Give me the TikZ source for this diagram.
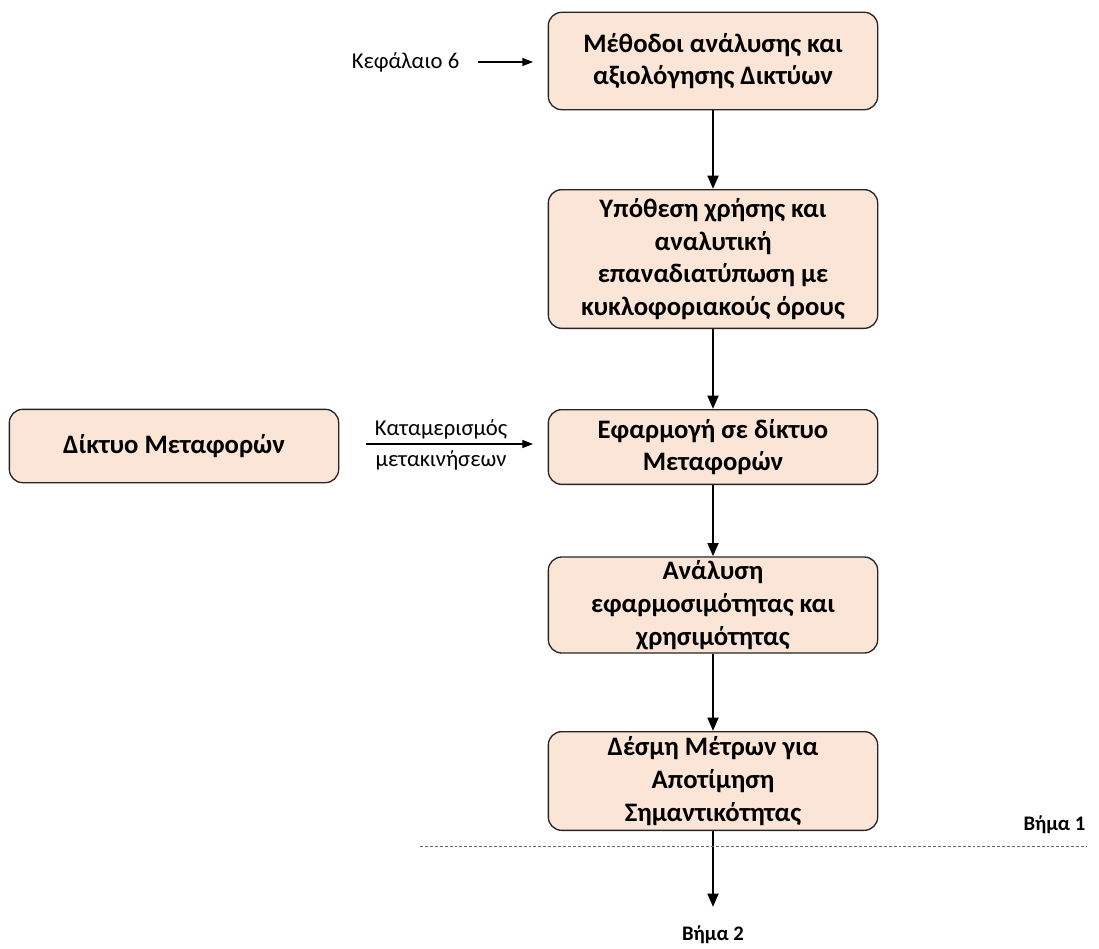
\documentclass[tikz,border=0pt]{standalone}
\usepackage{fontspec}
\setmainfont{Carlito}
\usetikzlibrary{arrows.meta}
\definecolor{peach}{RGB}{251,229,214}

\begin{document}
\begin{tikzpicture}[x=0.75pt, y=-0.75pt, >={Triangle[length=10pt,width=8pt]},
  stage/.style={draw=black!85, line width=1pt, fill=peach, rounded corners=10pt,
    minimum width=247pt, inner sep=2pt, align=center, font=\fontsize{20}{24.6}\selectfont\bfseries},
  flow/.style={->, line width=2pt},
  feed/.style={->, line width=0.9pt, shorten >=11pt, >={Triangle[length=8pt,width=6pt]}},
  note/.style={font=\fontsize{17}{20}\selectfont},
  steplabel/.style={font=\fontsize{15.5}{18}\selectfont\bfseries}]
  \useasboundingbox (0,0) rectangle (1099,949);

  % main column
  \node[stage, minimum height=73pt] (methods) at (713,61) {Μέθοδοι ανάλυσης και\\αξιολόγησης Δικτύων};
  \node[stage, minimum height=104pt] (usecase) at (713,259) {Υπόθεση χρήσης και\\αναλυτική\\επαναδιατύπωση με\\κυκλοφοριακούς όρους};
  \node[stage, minimum height=56pt] (apply) at (713,447) {Εφαρμογή σε δίκτυο\\Μεταφορών};
  \node[stage, minimum height=72pt] (analysis) at (713,605) {Ανάλυση\\εφαρμοσιμότητας και\\χρησιμότητας};
  \node[stage, minimum height=74pt] (measures) at (713,781) {Δέσμη Μέτρων για\\Αποτίμηση\\Σημαντικότητας};

  % side box
  \node[stage, minimum height=55pt] (network) at (174,446) {Δίκτυο Μεταφορών};

  \draw[flow] (methods) -- (usecase);
  \draw[flow] (usecase) -- (apply);
  \draw[flow] (apply) -- (analysis);
  \draw[flow] (analysis) -- (measures);
  \coordinate (next) at (713,907);
  \draw[flow] (measures) -- (next);

  % inputs from the left
  \node[note, anchor=east] (chapter) at (464,62) {Κεφάλαιο 6};
  \coordinate (from6) at (478,62);
  \draw[feed] (from6) -- (methods.west |- from6);
  \coordinate (split) at (366,444);
  \draw[feed] (split) -- (apply.west |- split);
  \node[note] (trips) at (441,429) {Καταμερισμός};
  \node[note] (moves) at (441,460) {μετακινήσεων};

  % step boundary
  \coordinate (lineL) at (420,846);
  \coordinate (lineR) at (1087,846);
  \draw[black!60, line width=0.6pt, dash pattern=on 2.2pt off 1.5pt] (lineL) -- (lineR);
  \node[steplabel, anchor=east] (step1) at (1090,825) {Βήμα 1};
  \node[steplabel] (step2) at (713,935) {Βήμα 2};
\end{tikzpicture}
\end{document}
